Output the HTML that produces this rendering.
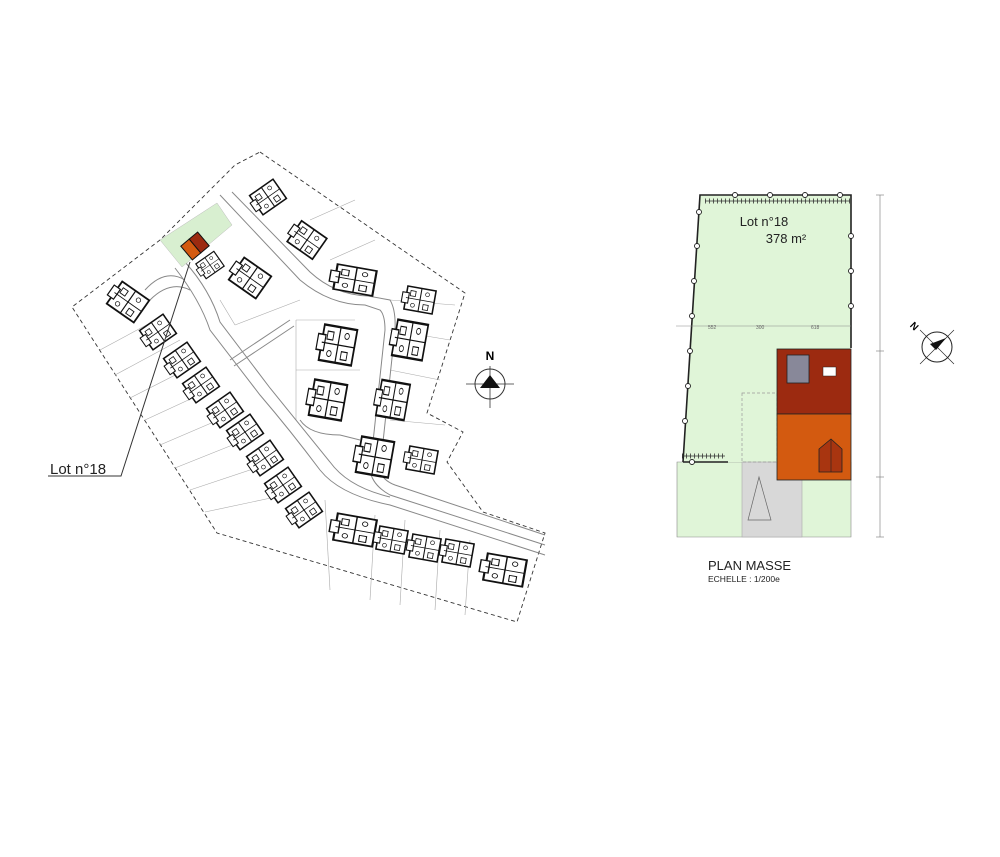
<!DOCTYPE html>
<html><head><meta charset="utf-8"><style>body{margin:0;background:#fff}svg{display:block}text{font-family:"Liberation Sans",Arial,sans-serif}</style></head>
<body>
<svg width="1000" height="857" viewBox="0 0 1000 857" xmlns="http://www.w3.org/2000/svg">
<defs>
<g id="h"><rect x="-11" y="-9" width="22" height="18" fill="#fff" stroke="#111" stroke-width="1.2"/><rect x="-14" y="-4" width="5" height="8" fill="#fff" stroke="#111" stroke-width="0.8"/><line x1="0" y1="-9" x2="0" y2="9" stroke="#111" stroke-width="0.8"/><line x1="-11" y1="0" x2="11" y2="0" stroke="#111" stroke-width="0.6"/><rect x="-8" y="-6" width="4" height="4" fill="none" stroke="#111" stroke-width="0.6"/><rect x="3" y="3" width="4" height="4" fill="none" stroke="#111" stroke-width="0.6"/><circle cx="5" cy="-5" r="1.5" fill="none" stroke="#111" stroke-width="0.5"/><circle cx="-5" cy="5" r="1.5" fill="none" stroke="#111" stroke-width="0.5"/></g>
</defs>
<polygon points="260,152 465,293 427,413 463,432 447,462 483,512 545,533 517,622 217,533 72,307 160,240 235,165" fill="none" stroke="#333" stroke-width="0.9" stroke-dasharray="4,3"/>
<g stroke="#aaa" stroke-width="0.6" fill="none">
<line x1="100" y1="350" x2="165" y2="315"/><line x1="115" y1="375" x2="180" y2="340"/><line x1="130" y1="398" x2="195" y2="365"/><line x1="145" y1="420" x2="210" y2="390"/><line x1="160" y1="445" x2="230" y2="415"/><line x1="175" y1="468" x2="245" y2="440"/><line x1="190" y1="490" x2="265" y2="465"/><line x1="205" y1="512" x2="285" y2="495"/>
<line x1="325" y1="500" x2="330" y2="590"/><line x1="375" y1="515" x2="370" y2="600"/><line x1="405" y1="520" x2="400" y2="605"/><line x1="440" y1="530" x2="435" y2="610"/><line x1="470" y1="540" x2="465" y2="615"/>
<line x1="310" y1="220" x2="355" y2="200"/><line x1="330" y1="260" x2="375" y2="240"/><line x1="390" y1="300" x2="455" y2="305"/><line x1="390" y1="330" x2="450" y2="340"/><line x1="390" y1="370" x2="440" y2="380"/><line x1="390" y1="420" x2="445" y2="425"/>
<line x1="296" y1="370" x2="360" y2="370"/><line x1="296" y1="320" x2="355" y2="320"/><line x1="296" y1="320" x2="296" y2="420"/>
<line x1="220" y1="300" x2="235" y2="325"/><line x1="235" y1="325" x2="300" y2="300"/>
</g>
<g fill="none" stroke="#888" stroke-width="1">
<path d="M220,195 L300,280 Q330,305 365,305 L380,310 Q385,315 385,330 L370,470 Q372,485 390,495 L545,545"/>
<path d="M232,192 L310,272 Q335,295 368,296 L390,300 Q396,310 395,330 L380,470 Q382,480 395,485 L545,535"/>
<path d="M175,268 Q200,300 210,330 L260,395 Q290,430 320,470 Q340,495 390,505 L545,555"/>
<path d="M185,262 Q210,290 220,322 L270,388 Q300,425 330,462 Q348,487 390,497"/>
<path d="M150,300 Q170,280 190,290 M145,290 Q165,268 185,280"/>
<path d="M230,360 L290,320 M234,366 L294,326"/>
<path d="M300,420 Q310,435 340,435 L360,440"/>
</g>
<polygon points="160,240 217,203 232,225 182,267" fill="#d8efd0" stroke="#bbb" stroke-width="0.5"/>
<g transform="translate(195,246) rotate(-40)"><rect x="-11" y="-9" width="11" height="18" fill="#d35a10" stroke="#111"/><rect x="0" y="-9" width="11" height="18" fill="#9c2a10" stroke="#111"/></g>
<g>
<use href="#h" transform="translate(268,197) rotate(-35) scale(1.3)"/>
<use href="#h" transform="translate(307,240) rotate(35) scale(1.4)"/>
<use href="#h" transform="translate(250,278) rotate(35) scale(1.5)"/>
<use href="#h" transform="translate(210,265) rotate(-35) scale(1)"/>
<use href="#h" transform="translate(128,302) rotate(35) scale(1.5)"/>
<use href="#h" transform="translate(158,332) rotate(-35) scale(1.3)"/>
<use href="#h" transform="translate(182,360) rotate(-35) scale(1.3)"/>
<use href="#h" transform="translate(201,385) rotate(-35) scale(1.3)"/>
<use href="#h" transform="translate(225,410) rotate(-35) scale(1.3)"/>
<use href="#h" transform="translate(245,432) rotate(-35) scale(1.3)"/>
<use href="#h" transform="translate(265,458) rotate(-35) scale(1.3)"/>
<use href="#h" transform="translate(283,485) rotate(-35) scale(1.3)"/>
<use href="#h" transform="translate(304,510) rotate(-35) scale(1.3)"/>
<use href="#h" transform="translate(355,280) rotate(10) scale(1.8,1.4)"/>
<use href="#h" transform="translate(420,300) rotate(10) scale(1.3)"/>
<use href="#h" transform="translate(338,345) rotate(10) scale(1.5,2)"/>
<use href="#h" transform="translate(410,340) rotate(10) scale(1.4,2)"/>
<use href="#h" transform="translate(328,400) rotate(10) scale(1.5,2)"/>
<use href="#h" transform="translate(393,400) rotate(10) scale(1.3,2)"/>
<use href="#h" transform="translate(375,457) rotate(10) scale(1.5,2)"/>
<use href="#h" transform="translate(422,460) rotate(10) scale(1.3)"/>
<use href="#h" transform="translate(355,530) rotate(10) scale(1.8,1.5)"/>
<use href="#h" transform="translate(392,540) rotate(10) scale(1.3)"/>
<use href="#h" transform="translate(425,548) rotate(10) scale(1.3)"/>
<use href="#h" transform="translate(458,553) rotate(10) scale(1.3)"/>
<use href="#h" transform="translate(505,570) rotate(10) scale(1.8,1.5)"/>
</g>
<text x="490" y="360" font-size="12" font-weight="bold" text-anchor="middle">N</text>
<circle cx="490" cy="384" r="15" fill="none" stroke="#333" stroke-width="1"/>
<line x1="466" y1="384" x2="514" y2="384" stroke="#333" stroke-width="0.8"/>
<line x1="490" y1="366" x2="490" y2="408" stroke="#333" stroke-width="0.8"/>
<polygon points="490,375 500,388 480,388" fill="#111"/>
<text x="50" y="474" font-size="15" fill="#222">Lot n°18</text>
<polyline points="48,476 121,476 190,262" fill="none" stroke="#333" stroke-width="1"/>

<polygon points="677,462 851,462 851,537 677,537" fill="#e0f5d8" stroke="#888" stroke-width="0.6"/>
<polygon points="700,195 851,195 851,352 777,352 777,480 851,480 851,462 683,462" fill="#e0f5d8"/>
<rect x="742" y="462" width="60" height="75" fill="#d8d8d8" stroke="#aaa" stroke-width="0.6"/>
<polygon points="759,477 748,520 771,520" fill="none" stroke="#666" stroke-width="0.7"/>
<rect x="742" y="393" width="35" height="69" fill="none" stroke="#999" stroke-width="0.7" stroke-dasharray="3,2"/>
<polyline points="683,462 700,195 851,195 851,348" fill="none" stroke="#222" stroke-width="1.6"/>
<line x1="683" y1="462" x2="728" y2="462" stroke="#222" stroke-width="1.6"/>
<line x1="705" y1="201" x2="850" y2="201" stroke="#333" stroke-width="0.8"/>
<line x1="705" y1="201" x2="850" y2="201" stroke="#333" stroke-width="5" stroke-dasharray="0.8,3.2"/>
<line x1="682" y1="456" x2="725" y2="456" stroke="#333" stroke-width="0.8"/>
<line x1="682" y1="456" x2="725" y2="456" stroke="#333" stroke-width="5" stroke-dasharray="0.8,3.2"/>
<g fill="#fff" stroke="#222" stroke-width="0.9">
<circle cx="735" cy="195" r="2.5"/><circle cx="770" cy="195" r="2.5"/><circle cx="805" cy="195" r="2.5"/><circle cx="840" cy="195" r="2.5"/>
<circle cx="851" cy="236" r="2.5"/><circle cx="851" cy="271" r="2.5"/><circle cx="851" cy="306" r="2.5"/>
<circle cx="699" cy="212" r="2.5"/><circle cx="697" cy="246" r="2.5"/><circle cx="694" cy="281" r="2.5"/><circle cx="692" cy="316" r="2.5"/><circle cx="690" cy="351" r="2.5"/><circle cx="688" cy="386" r="2.5"/><circle cx="685" cy="421" r="2.5"/><circle cx="692" cy="462" r="2.5"/>
</g>
<line x1="676" y1="326" x2="851" y2="326" stroke="#888" stroke-width="0.5"/>
<text x="708" y="329" font-size="5" fill="#666">552</text><text x="756" y="329" font-size="5" fill="#666">300</text><text x="811" y="329" font-size="5" fill="#666">618</text>
<rect x="777" y="349" width="74" height="65" fill="#9c2a10" stroke="#222" stroke-width="0.8"/>
<rect x="777" y="414" width="74" height="66" fill="#d35a10" stroke="#222" stroke-width="0.8"/>
<rect x="787" y="355" width="22" height="28" fill="#888899" stroke="#222" stroke-width="0.8"/>
<rect x="823" y="367" width="13" height="9" fill="#fff" stroke="#222" stroke-width="0.5"/>
<polygon points="819,449 831,439 842,449 842,472 819,472" fill="#a83510" stroke="#222" stroke-width="0.8"/>
<line x1="831" y1="439" x2="831" y2="472" stroke="#222" stroke-width="0.6"/>
<line x1="880" y1="195" x2="880" y2="537" stroke="#777" stroke-width="0.6"/>
<g stroke="#777" stroke-width="0.6"><line x1="876" y1="195" x2="884" y2="195"/><line x1="876" y1="351" x2="884" y2="351"/><line x1="876" y1="477" x2="884" y2="477"/><line x1="876" y1="537" x2="884" y2="537"/></g>
<circle cx="937" cy="347" r="15" fill="none" stroke="#222" stroke-width="1"/>
<line x1="920" y1="364" x2="954" y2="330" stroke="#222" stroke-width="0.6"/><line x1="920" y1="330" x2="954" y2="364" stroke="#222" stroke-width="0.6"/>
<polygon points="946,338 930,344 936,350 931,356" fill="#111"/>
<text x="911" y="330" font-size="10" font-weight="bold" transform="rotate(45 915 326)">N</text>
<text x="708" y="570" font-size="13" fill="#222">PLAN MASSE</text>
<text x="708" y="582" font-size="8.5" fill="#222">ECHELLE : 1/200e</text>
<text x="764" y="226" font-size="13" text-anchor="middle" fill="#222">Lot n°18</text>
<text x="786" y="243" font-size="13" text-anchor="middle" fill="#222">378 m²</text>
</svg>
</body></html>
